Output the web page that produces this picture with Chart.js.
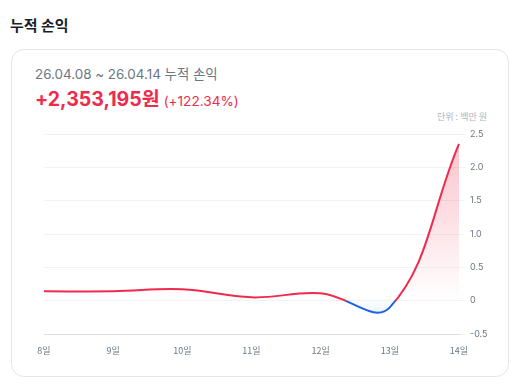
<!DOCTYPE html>
<html>
<head>
<meta charset="utf-8">
<script src="https://cdn.jsdelivr.net/npm/chart.js@4/dist/chart.umd.min.js"></script>
<style>
  html, body { margin: 0; padding: 0; background: #fff; width: 527px; height: 385px; overflow: hidden; }
  body { position: relative; font-family: Inter, "Noto Sans CJK KR", sans-serif; }
  .title { position: absolute; left: 10px; top: 14px; font-size: 15px; font-weight: 700; color: #191f28; line-height: 22px; font-family: "Noto Sans CJK KR", sans-serif; }
  .card { position: absolute; left: 11px; top: 49px; width: 498px; height: 328px; border: 1px solid #e3e5e8; border-radius: 13px; box-sizing: border-box; }
  .period { position: absolute; left: 35px; top: 64px; font-size: 13.4px; color: #6b7684; line-height: 20px; white-space: nowrap; }
  .amount { position: absolute; left: 35px; top: 85px; line-height: 28px; color: #ee2a4d; white-space: nowrap; }
  .amount b { font-size: 19.5px; font-weight: 700; }
  .amount span { font-size: 13.6px; margin-left: 4px; }
  .unit { position: absolute; right: 40px; top: 110px; font-size: 9px; color: #aeb5bd; line-height: 14px; font-family: "Noto Sans CJK KR", sans-serif; }
  #wrap { position: absolute; left: 0; top: 0; width: 527px; height: 385px; }
</style>
</head>
<body>
<div class="title">누적 손익</div>
<div class="card"></div>
<div class="period">26.04.08 ~ 26.04.14 누적 손익</div>
<div class="amount"><b>+2,353,195원</b><span>(+122.34%)</span></div>
<div class="unit">단위 : 백만 원</div>
<div id="wrap"><canvas id="c" width="527" height="385"></canvas></div>
<script>
// Data (unit: million KRW)
const dayLabels = ['8일', '9일', '10일', '11일', '12일', '13일', '14일'];
const profitValues = [0.14, 0.14, 0.17, 0.05, 0.11, -0.10, 2.353];
const yMin = -0.5, yMax = 2.5, yStep = 0.5;

const RED = '#ee2a4d', BLUE = '#1c63dd';

function zeroFrac(chart) {
  const { chartArea, scales } = chart;
  const y0 = scales.y.getPixelForValue(0);
  return Math.min(1, Math.max(0, (y0 - chartArea.top) / (chartArea.bottom - chartArea.top)));
}

function lineColor(ctx) {
  const chart = ctx.chart;
  if (!chart.chartArea) return RED;
  const { top, bottom } = chart.chartArea;
  const f = zeroFrac(chart);
  const g = chart.ctx.createLinearGradient(0, top, 0, bottom);
  g.addColorStop(0, RED);
  g.addColorStop(f, RED);
  g.addColorStop(f, BLUE);
  g.addColorStop(1, BLUE);
  return g;
}

function aboveFill(ctx) {
  const chart = ctx.chart;
  if (!chart.chartArea) return 'rgba(238,42,77,0.15)';
  const yTop = chart.scales.y.getPixelForValue(Math.max(...profitValues));
  const y0 = chart.scales.y.getPixelForValue(0);
  const g = chart.ctx.createLinearGradient(0, yTop, 0, y0);
  g.addColorStop(0, 'rgba(238,42,77,0.28)');
  g.addColorStop(1, 'rgba(238,42,77,0.0)');
  return g;
}

function belowFill(ctx) {
  const chart = ctx.chart;
  if (!chart.chartArea) return 'rgba(28,99,221,0.05)';
  const y0 = chart.scales.y.getPixelForValue(0);
  const yBot = chart.scales.y.getPixelForValue(Math.min(...profitValues) - 0.08);
  const g = chart.ctx.createLinearGradient(0, y0, 0, yBot);
  g.addColorStop(0, 'rgba(28,99,221,0.01)');
  g.addColorStop(1, 'rgba(28,99,221,0.08)');
  return g;
}

new Chart(document.getElementById('c'), {
  type: 'line',
  data: {
    labels: dayLabels,
    datasets: [{
      data: profitValues,
      borderColor: lineColor,
      borderWidth: 2,
      tension: 0.4,
      pointRadius: 0,
      pointHoverRadius: 0,
      fill: { target: 'origin', above: aboveFill, below: belowFill }
    }]
  },
  options: {
    responsive: false,
    animation: false,
    devicePixelRatio: 1,
    layout: { padding: { left: 44, right: 28, top: 134, bottom: 21 } },
    plugins: { legend: { display: false }, tooltip: { enabled: false } },
    scales: {
      x: {
        offset: false,
        grid: { display: false, drawTicks: false },
        border: { display: true, color: '#dcdfe3', width: 1 },
        ticks: { color: '#6b7684', font: { family: '"Noto Sans CJK KR", sans-serif', size: 9 }, padding: 11, maxRotation: 0, autoSkip: false },
        afterFit: s => { s.height = 30; }
      },
      y: {
        position: 'right',
        min: yMin, max: yMax,
        grid: { color: '#f1f2f4', drawTicks: true, tickLength: 6 },
        border: { display: false },
        ticks: {
          stepSize: yStep, padding: 5, color: '#6b7684',
          font: { family: 'Inter, "Noto Sans", sans-serif', size: 9 },
          callback: v => (v === 0 ? '0' : v.toFixed(1))
        },
        afterFit: s => { s.width = 40; }
      }
    }
  }
});
</script>
</body>
</html>
